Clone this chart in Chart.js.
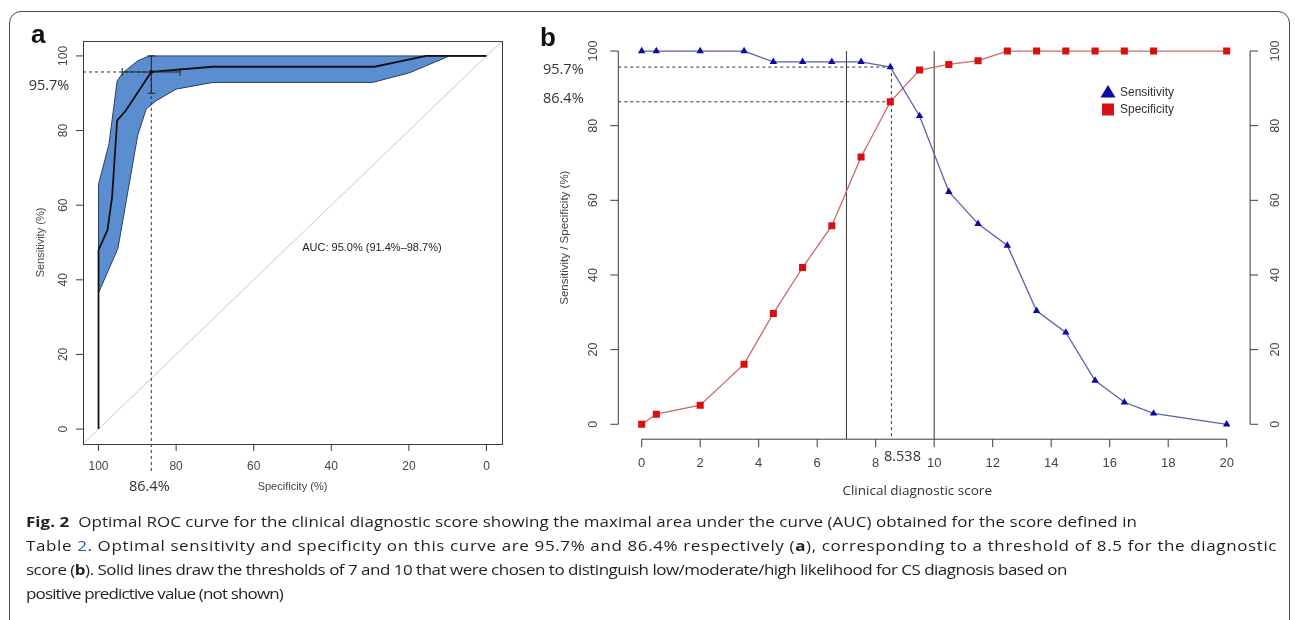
<!DOCTYPE html>
<html>
<head>
<meta charset="utf-8">
<script src="https://cdn.jsdelivr.net/npm/chart.js@4.4.1/dist/chart.umd.min.js"></script>
<style>
  html, body { margin: 0; padding: 0; background: #fff; width: 1295px; height: 620px; overflow: hidden; }
  #frame { position: absolute; left: 9px; top: 11px; width: 1281px; height: 660px; border: 1px solid #4a4a4a; border-radius: 12px; box-sizing: border-box; }
  .plot { position: absolute; left: 0; top: 0; width: 1295px; height: 505px; }
  #caption { position: absolute; left: 26px; top: 509px; font-family: "Open Sans", sans-serif; font-size: 15px; color: #231f20; }
  #caption div { white-space: nowrap; line-height: 24px; height: 24px; transform-origin: 0 50%; }
  #caption span.blue { color: #2a5db0; }
</style>
</head>
<body>
<div id="frame"></div>
<div class="plot"><canvas id="rocChart"></canvas></div>
<div class="plot"><canvas id="scoreChart"></canvas></div>
<div id="caption">
  <div><span class="ln"><b>Fig. 2</b>&nbsp; Optimal ROC curve for the clinical diagnostic score showing the maximal area under the curve (AUC) obtained for the score defined in</span></div>
  <div><span class="ln">Table <span class="blue">2</span>. Optimal sensitivity and specificity on this curve are 95.7% and 86.4% respectively (<b>a</b>), corresponding to a threshold of 8.5 for the diagnostic</span></div>
  <div><span class="ln">score (<b>b</b>). Solid lines draw the thresholds of 7 and 10 that were chosen to distinguish low/moderate/high likelihood for CS diagnosis based on</span></div>
  <div><span class="ln">positive predictive value (not shown)</span></div>
</div>
<script>
// Panel a: ROC curve (specificity %, sensitivity %)
const rocSpec = [100, 100, 97.7, 96.5, 95.2, 93.0, 86.4, 70.6, 28.9, 15.5, 0];
const rocSens = [0, 48.0, 53.3, 62.2, 82.7, 85.3, 95.7, 97.1, 97.1, 100, 100];

// confidence band outline, upper edge then lower edge
const bandUpperSpec = [100, 100, 97.3, 95.2, 93.7, 89.9, 86.9, 0];
const bandUpperSens = [36.5, 65.6, 76.4, 93.3, 95.5, 98.7, 100, 100];
const bandLowerSpec = [0, 9.5, 19.8, 29.3, 70.5, 80.0, 85.1, 87.7, 89.9, 95.0, 100];
const bandLowerSens = [100, 100, 95.5, 92.9, 92.9, 91.1, 88.0, 85.8, 78.7, 48.4, 36.5];

const optSpec = 86.4;
const optSens = 95.7;
const specCI = [79.0, 93.9];
const sensCI = [90.0, 100];
const rocTicks = [0, 20, 40, 60, 80, 100];

// Panel b: sensitivity / specificity by score threshold
const scores = [0, 0.5, 2, 3.5, 4.5, 5.5, 6.5, 7.5, 8.5, 9.5, 10.5, 11.5, 12.5, 13.5, 14.5, 15.5, 16.5, 17.5, 20];
const sensitivity = [100, 100, 100, 100, 97.1, 97.1, 97.1, 97.1, 95.7, 82.6, 62.3, 53.7, 47.9, 30.4, 24.6, 11.7, 5.9, 2.9, 0];
const specificity = [0, 2.7, 5.1, 16.1, 29.7, 42.0, 53.2, 71.6, 86.4, 94.9, 96.4, 97.4, 100, 100, 100, 100, 100, 100, 100];
const scoreTicks = [0, 2, 4, 6, 8, 10, 12, 14, 16, 18, 20];
const pctTicks = [0, 20, 40, 60, 80, 100];
const cutoff = 8.538;
const riskThresholds = [7, 10];

const axisColor = '#3c3c3c';
const labelColor = '#444';
const rFont = '"Liberation Sans", Arial, sans-serif';
const noteFont = '"Open Sans", sans-serif';

const toXY = (xs, ys) => xs.map((v, i) => ({ x: v, y: ys[i] }));

function seg(ctx, x1, y1, x2, y2) {
    ctx.beginPath();
    ctx.moveTo(x1, y1);
    ctx.lineTo(x2, y2);
    ctx.stroke();
}

function upText(ctx, text, x, y) {
    ctx.save();
    ctx.translate(x, y);
    ctx.rotate(-Math.PI / 2);
    ctx.fillText(text, 0, 0);
    ctx.restore();
}

// R style axes, guides and notes for panel a
const panelA = {
    id: 'panelA',
    afterDatasetsDraw(chart) {
        const { ctx, chartArea: ca } = chart;
        const x = chart.scales.x, y = chart.scales.y;
        const px = x.getPixelForValue(optSpec), py = y.getPixelForValue(optSens);
        ctx.save();
        ctx.lineWidth = 1;
        ctx.strokeStyle = '#333';
        ctx.setLineDash([3, 3]);
        seg(ctx, ca.left, py, px, py);
        seg(ctx, px, py, px, ca.bottom + 28);
        ctx.setLineDash([]);

        // CI cross at the optimal point
        ctx.strokeStyle = '#222';
        const sy1 = y.getPixelForValue(sensCI[0]), sy2 = y.getPixelForValue(sensCI[1]);
        const sx1 = x.getPixelForValue(specCI[0]), sx2 = x.getPixelForValue(specCI[1]);
        seg(ctx, px, sy1, px, sy2);
        seg(ctx, px - 4, sy1, px + 4, sy1);
        seg(ctx, px - 4, sy2, px + 4, sy2);
        seg(ctx, sx1, py, sx2, py);
        seg(ctx, sx1, py - 4, sx1, py + 4);
        seg(ctx, sx2, py - 4, sx2, py + 4);
        ctx.fillStyle = '#111';
        ctx.beginPath();
        ctx.arc(px, py, 2, 0, Math.PI * 2);
        ctx.fill();

        // box + axes
        ctx.strokeStyle = axisColor;
        ctx.strokeRect(ca.left + 0.5, ca.top + 0.5, ca.right - ca.left, ca.bottom - ca.top);
        ctx.fillStyle = labelColor;
        ctx.font = '12px ' + rFont;
        ctx.textAlign = 'center';
        ctx.textBaseline = 'middle';
        rocTicks.forEach(t => {
            const tx = x.getPixelForValue(t);
            seg(ctx, tx, ca.bottom, tx, ca.bottom + 7);
            ctx.fillText(String(t), tx, ca.bottom + 23);
            const ty = y.getPixelForValue(t);
            seg(ctx, ca.left, ty, ca.left - 7, ty);
            upText(ctx, String(t), ca.left - 19, ty);
        });
        ctx.font = '11px ' + rFont;
        ctx.fillText('Specificity (%)', (ca.left + ca.right) / 2, ca.bottom + 43);
        upText(ctx, 'Sensitivity (%)', ca.left - 42, (ca.top + ca.bottom) / 2);
        ctx.textAlign = 'left';
        ctx.fillStyle = '#222';
        ctx.fillText('AUC: 95.0% (91.4%\u201398.7%)', x.getPixelForValue(47.5), y.getPixelForValue(48.5));

        ctx.textAlign = 'center';
        ctx.fillStyle = '#333';
        ctx.font = '14.5px ' + noteFont;
        ctx.fillText(optSens + '%', ca.left - 34, py + 14);
        ctx.fillText(optSpec + '%', px - 2, ca.bottom + 43);
        ctx.font = 'bold 26px ' + rFont;
        ctx.fillStyle = '#111';
        ctx.textAlign = 'left';
        ctx.textBaseline = 'alphabetic';
        ctx.fillText('a', 31, 43);
        ctx.restore();
    }
};

// R style axes, threshold lines and legend for panel b
const panelB = {
    id: 'panelB',
    beforeDatasetsDraw(chart) {
        const { ctx, chartArea: ca } = chart;
        const x = chart.scales.x, y = chart.scales.y;
        ctx.save();
        ctx.lineWidth = 1;
        ctx.strokeStyle = '#333';
        riskThresholds.forEach(t => {
            const tx = x.getPixelForValue(t);
            seg(ctx, tx, y.getPixelForValue(100), tx, ca.bottom);
        });
        ctx.setLineDash([3, 3]);
        const cx = x.getPixelForValue(cutoff);
        seg(ctx, cx, y.getPixelForValue(optSens), cx, ca.bottom);
        [optSens, optSpec].forEach(v => {
            const vy = y.getPixelForValue(v);
            seg(ctx, ca.left, vy, cx, vy);
        });
        ctx.restore();
    },
    afterDatasetsDraw(chart) {
        const { ctx, chartArea: ca } = chart;
        const x = chart.scales.x, y = chart.scales.y;
        ctx.save();
        ctx.lineWidth = 1;
        ctx.strokeStyle = axisColor;
        ctx.fillStyle = labelColor;
        ctx.textAlign = 'center';
        ctx.textBaseline = 'middle';
        ctx.font = '13px ' + rFont;

        const x0 = x.getPixelForValue(scoreTicks[0]), x1 = x.getPixelForValue(scoreTicks[scoreTicks.length - 1]);
        seg(ctx, x0, ca.bottom, x1, ca.bottom);
        scoreTicks.forEach(t => {
            const tx = x.getPixelForValue(t);
            seg(ctx, tx, ca.bottom, tx, ca.bottom + 8);
            ctx.fillText(String(t), tx, ca.bottom + 24);
        });

        const y0 = y.getPixelForValue(pctTicks[0]), y1 = y.getPixelForValue(pctTicks[pctTicks.length - 1]);
        seg(ctx, ca.left, y0, ca.left, y1);
        seg(ctx, ca.right, y0, ca.right, y1);
        ctx.font = '12.5px ' + rFont;
        pctTicks.forEach(t => {
            const ty = y.getPixelForValue(t);
            seg(ctx, ca.left, ty, ca.left - 8, ty);
            seg(ctx, ca.right, ty, ca.right + 8, ty);
            upText(ctx, String(t), ca.left - 25, ty);
            upText(ctx, String(t), ca.right + 25, ty);
        });
        ctx.font = '11.5px ' + rFont;
        upText(ctx, 'Sensitivity / Specificity (%)', ca.left - 53, (ca.top + ca.bottom) / 2);

        ctx.fillStyle = '#333';
        ctx.font = '13.5px ' + noteFont;
        ctx.fillText('Clinical diagnostic score', (x0 + x1) / 2 - 17, ca.bottom + 52);
        ctx.font = '14.5px ' + noteFont;
        ctx.fillText(String(cutoff), x.getPixelForValue(cutoff) + 11, ca.bottom + 18);
        ctx.fillText(optSens + '%', ca.left - 55, y.getPixelForValue(optSens) + 3);
        ctx.fillText(optSpec + '%', ca.left - 55, y.getPixelForValue(optSpec) - 3);

        // legend
        const lx = 1108;
        ctx.fillStyle = '#0a0aa8';
        ctx.beginPath();
        ctx.moveTo(lx, 85);
        ctx.lineTo(lx + 7.5, 97.5);
        ctx.lineTo(lx - 7.5, 97.5);
        ctx.closePath();
        ctx.fill();
        ctx.fillStyle = '#d81010';
        ctx.fillRect(lx - 6, 103.5, 12, 12);
        ctx.fillStyle = '#333';
        ctx.textAlign = 'left';
        ctx.font = '12px ' + rFont;
        ctx.fillText('Sensitivity', 1120, 93);
        ctx.fillText('Specificity', 1120, 110);

        ctx.font = 'bold 26px ' + rFont;
        ctx.fillStyle = '#111';
        ctx.textBaseline = 'alphabetic';
        ctx.fillText('b', 540, 46);
        ctx.restore();
    }
};

const bandPolygon = toXY(bandUpperSpec.concat(bandLowerSpec), bandUpperSens.concat(bandLowerSens));

new Chart(document.getElementById('rocChart'), {
    type: 'scatter',
    data: {
        datasets: [
            {
                data: bandPolygon,
                showLine: true,
                fill: 'shape',
                backgroundColor: '#5b8ed1',
                borderColor: '#2a3f68',
                borderWidth: 1,
                pointRadius: 0,
                order: 3
            },
            {
                // chance diagonal, corner to corner of the plot region
                data: toXY([104, -4], [-4, 104]),
                showLine: true,
                borderColor: '#c9c9c9',
                borderWidth: 1,
                pointRadius: 0,
                order: 2
            },
            {
                data: toXY(rocSpec, rocSens),
                showLine: true,
                borderColor: '#111',
                borderWidth: 1.8,
                pointRadius: 0,
                order: 1
            }
        ]
    },
    options: {
        responsive: true,
        maintainAspectRatio: false,
        animation: false,
        layout: { padding: { left: 83, top: 41, right: 1295 - 502, bottom: 505 - 444 } },
        plugins: { legend: { display: false }, tooltip: { enabled: false } },
        scales: {
            x: { type: 'linear', reverse: true, min: -4, max: 104, display: false },
            y: { type: 'linear', min: -4, max: 104, display: false }
        }
    },
    plugins: [panelA]
});

new Chart(document.getElementById('scoreChart'), {
    type: 'scatter',
    data: {
        datasets: [
            {
                label: 'Sensitivity',
                data: toXY(scores, sensitivity),
                showLine: true,
                borderColor: '#5f5fa8',
                borderWidth: 1.3,
                pointStyle: 'triangle',
                pointRadius: 4.3,
                pointBackgroundColor: '#0a0aa8',
                pointBorderColor: '#0a0aa8',
                pointBorderWidth: 0
            },
            {
                label: 'Specificity',
                data: toXY(scores, specificity),
                showLine: true,
                borderColor: '#c96a6a',
                borderWidth: 1.3,
                pointStyle: 'rect',
                pointRadius: 5,
                pointBackgroundColor: '#d81010',
                pointBorderColor: '#d81010',
                pointBorderWidth: 0
            }
        ]
    },
    options: {
        responsive: true,
        maintainAspectRatio: false,
        animation: false,
        layout: { padding: { left: 618.3, top: 36.1, right: 1295 - 1250.1, bottom: 505 - 439.2 } },
        plugins: { legend: { display: false }, tooltip: { enabled: false } },
        scales: {
            x: { type: 'linear', min: -0.8, max: 20.8, display: false },
            y: { type: 'linear', min: -4, max: 104, display: false }
        }
    },
    plugins: [panelB]
});

// one common horizontal scale for the caption, then letter spacing per line
// so each line ends where it does in the reference
const lineWidths = [1111, 1251, 1041, 257];
const capLines = Array.from(document.querySelectorAll('#caption div'));
const natural = capLines.map(d => d.querySelector('.ln').getBoundingClientRect().width);
const s = lineWidths.reduce((a, b) => a + b, 0) / natural.reduce((a, b) => a + b, 0);
capLines.forEach((d, i) => {
    const n = d.textContent.trim().length;
    const ls = (lineWidths[i] / s - natural[i]) / n;
    d.style.letterSpacing = ls.toFixed(3) + 'px';
    d.style.transform = 'scaleX(' + s + ')';
});
</script>
</body>
</html>
